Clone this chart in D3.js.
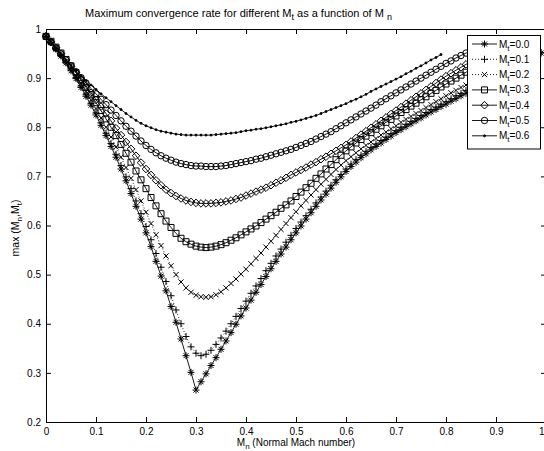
<!DOCTYPE html>
<html>
<head>
<meta charset="utf-8">
<script src="https://cdn.jsdelivr.net/npm/d3@7"></script>
<style>
  body { margin: 0; background: #fff; }
  text { font-family: "Liberation Sans", Arial, Helvetica, sans-serif; }
</style>
</head>
<body>
<svg id="chart" width="544" height="451"></svg>
<script>
// Mach number step is 0.01; each series stops at the sonic limit
const mtLabels = ["0.0", "0.1", "0.2", "0.3", "0.4", "0.5", "0.6"];

const rateMt00 = [
  .985,.973,.959,.945,.931,.915,.899,.881,.863,.845,.825,
  .804,.783,.761,.739,.715,.691,.665,.639,.613,.585,
  .557,.527,.497,.467,.435,.403,.369,.335,.301,.265,
  .282,.298,.315,.331,.348,.365,.382,.399,.416,.432,
  .448,.464,.480,.496,.512,.527,.542,.556,.571,.585,
  .599,.613,.626,.639,.652,.664,.676,.688,.699,.710,
  .720,.729,.738,.746,.754,.761,.768,.775,.782,.789,
  .795,.801,.807,.813,.819,.825,.831,.836,.842,.847,
  .853,.858,.864,.869,.875,.880,.886,.891,.897,.902,
  .908,.913,.919,.924,.930,.935,.941,.946,.951
];
const rateMt01 = [
  .985,.973,.960,.946,.932,.917,.901,.884,.866,.848,.829,
  .809,.788,.767,.745,.722,.699,.675,.650,.624,.598,
  .571,.543,.515,.486,.457,.428,.400,.374,.353,.340,
  .335,.338,.346,.358,.371,.385,.400,.415,.431,.446,
  .462,.477,.492,.508,.523,.538,.552,.566,.580,.594,
  .607,.620,.633,.646,.658,.670,.682,.693,.704,.715,
  .725,.734,.743,.751,.759,.766,.773,.780,.787,.793,
  .800,.806,.812,.818,.824,.830,.836,.841,.847,.852,
  .858,.864,.869,.875,.880,.886,.891,.897,.902,.907,
  .912,.917,.922,.927,.932,.937,.942,.947,.952
];
const rateMt02 = [
  .985,.974,.961,.948,.934,.920,.905,.889,.873,.856,.838,
  .819,.800,.780,.760,.739,.718,.696,.673,.650,.627,
  .604,.581,.559,.538,.518,.500,.485,.473,.464,.458,
  .455,.454,.455,.459,.465,.473,.482,.491,.501,.511,
  .522,.533,.544,.556,.568,.580,.592,.604,.616,.628,
  .640,.651,.662,.673,.684,.694,.704,.714,.723,.732,
  .740,.748,.756,.763,.770,.777,.784,.790,.797,.803,
  .810,.816,.822,.828,.834,.840,.846,.852,.858,.864,
  .870,.875,.881,.886,.891,.896,.901,.906,.911,.916,
  .920,.925,.929,.933,.937,.941,.945
];
const rateMt03 = [
  .985,.975,.963,.951,.938,.925,.911,.896,.881,.866,.850,
  .834,.817,.800,.783,.765,.747,.729,.711,.693,.675,
  .657,.640,.624,.609,.596,.584,.574,.567,.562,.558,
  .556,.555,.556,.558,.561,.565,.570,.575,.581,.587,
  .593,.599,.606,.613,.620,.627,.635,.642,.650,.659,
  .668,.677,.686,.696,.705,.715,.724,.734,.743,.752,
  .760,.768,.775,.782,.789,.796,.803,.810,.816,.823,
  .830,.836,.843,.849,.856,.862,.869,.875,.882,.888,
  .894,.900,.906,.912,.918,.923,.928,.933,.938,.942,
  .946,.949,.952,.955,.958
];
const rateMt04 = [
  .985,.974,.962,.950,.937,.924,.911,.898,.884,.870,.856,
  .842,.828,.813,.798,.784,.770,.756,.742,.728,.715,
  .703,.692,.682,.673,.666,.660,.655,.651,.648,.646,
  .645,.645,.645,.646,.647,.649,.651,.654,.657,.661,
  .665,.669,.673,.677,.682,.687,.692,.697,.703,.708,
  .713,.718,.724,.729,.735,.740,.746,.752,.758,.764,
  .771,.778,.785,.792,.799,.806,.813,.820,.827,.834,
  .841,.848,.855,.862,.869,.876,.883,.890,.897,.904,
  .910,.916,.922,.928,.933,.938,.943,.947,.951,.955,
  .958
];
const rateMt05 = [
  .985,.973,.961,.949,.937,.925,.913,.901,.890,.879,.868,
  .857,.846,.835,.824,.813,.802,.792,.782,.772,.763,
  .755,.748,.742,.737,.733,.729,.726,.724,.722,.721,
  .721,.720,.720,.720,.721,.722,.724,.726,.728,.730,
  .732,.735,.737,.740,.743,.746,.749,.752,.755,.759,
  .763,.767,.771,.776,.781,.786,.791,.797,.803,.809,
  .815,.821,.827,.833,.839,.845,.852,.858,.864,.870,
  .876,.882,.888,.894,.900,.906,.912,.918,.924,.930,
  .935,.941,.946,.951,.955,.959
];
const rateMt06 = [
  .985,.972,.960,.948,.937,.926,.915,.905,.895,.886,.877,
  .868,.860,.852,.844,.836,.828,.821,.814,.808,.803,
  .799,.795,.792,.790,.788,.786,.785,.784,.784,.784,
  .784,.784,.784,.785,.786,.787,.788,.789,.791,.793,
  .794,.796,.797,.799,.801,.803,.805,.807,.810,.812,
  .815,.818,.821,.824,.828,.832,.836,.840,.844,.848,
  .853,.857,.862,.867,.873,.878,.883,.888,.893,.898,
  .903,.909,.914,.920,.925,.931,.937,.942,.948
];

const xTicks = [0, 0.1, 0.2, 0.3, 0.4, 0.5, 0.6, 0.7, 0.8, 0.9, 1];
const xTickLabels = ["0", "0.1", "0.2", "0.3", "0.4", "0.5", "0.6", "0.7", "0.8", "0.9", "1"];
const yTicks = [0.2, 0.3, 0.4, 0.5, 0.6, 0.7, 0.8, 0.9, 1];
const yTickLabels = ["0.2", "0.3", "0.4", "0.5", "0.6", "0.7", "0.8", "0.9", "1"];

const seriesValues = [rateMt00, rateMt01, rateMt02, rateMt03, rateMt04, rateMt05, rateMt06];
const markerKinds = ["star", "plus", "cross", "square", "diamond", "circle", "dot"];
const lineDash = [null, "1,2", "1,2", null, null, null, null];

const plotLeft = 46, plotRight = 546, plotTop = 29, plotBottom = 422;

const svg = d3.select("#chart");
svg.append("rect").attr("width", 544).attr("height", 451).attr("fill", "#fff");

const x = d3.scaleLinear().domain([0, 1]).range([plotLeft, plotRight]);
const y = d3.scaleLinear().domain([0.2, 1]).range([plotBottom, plotTop]);

function markerPath(kind) {
    switch (kind) {
        case "plus": return "M-3.5,0H3.5M0,-3.5V3.5";
        case "cross": return "M-2.6,-2.6L2.6,2.6M-2.6,2.6L2.6,-2.6";
        case "star": return "M-3.5,0H3.5M0,-3.5V3.5M-2.5,-2.5L2.5,2.5M-2.5,2.5L2.5,-2.5";
        case "square": return "M-3,-3H3V3H-3Z";
        case "diamond": return "M0,-3.8L3.8,0L0,3.8L-3.8,0Z";
        case "circle": return "M3.2,0A3.2,3.2 0 1,1 -3.2,0A3.2,3.2 0 1,1 3.2,0Z";
        default: return "M1,0A1,1 0 1,1 -1,0A1,1 0 1,1 1,0Z";
    }
}

// axes, ticks pointing inward
const fmtX = (d, i) => xTickLabels[i];
const fmtY = (d, i) => yTickLabels[i];

const gx = svg.append("g").attr("transform", `translate(0,${plotBottom})`)
    .call(d3.axisBottom(x).tickValues(xTicks).tickFormat(fmtX).tickSizeInner(-5).tickSizeOuter(0).tickPadding(6));
svg.append("g").attr("transform", `translate(0,${plotTop})`)
    .call(d3.axisTop(x).tickValues(xTicks).tickFormat("").tickSizeInner(-5).tickSizeOuter(0));
svg.append("g").attr("transform", `translate(${plotLeft},0)`)
    .call(d3.axisLeft(y).tickValues(yTicks).tickFormat(fmtY).tickSizeInner(-5).tickSizeOuter(0).tickPadding(5));
svg.append("g").attr("transform", `translate(${plotRight},0)`)
    .call(d3.axisRight(y).tickValues(yTicks).tickFormat("").tickSizeInner(-5).tickSizeOuter(0));

svg.selectAll(".domain").attr("stroke", "#000").attr("stroke-width", 1);
svg.selectAll(".tick line").attr("stroke", "#000");
svg.selectAll(".tick text").attr("font-size", 10).attr("fill", "#000")
    .attr("font-family", '"Liberation Sans", Arial, sans-serif');

// the last x label sits at the window edge, keep it inside
gx.selectAll(".tick text").filter((d, i) => i === xTicks.length - 1)
    .attr("text-anchor", "end").attr("x", 544 - plotRight);

// curves
const line = d3.line().x((d, i) => x(i / 100)).y(d => y(d));

const plot = svg.append("g");
seriesValues.forEach((vals, k) => {
    plot.append("path")
        .attr("d", line(vals))
        .attr("fill", "none")
        .attr("stroke", "#000")
        .attr("stroke-width", 0.9)
        .attr("stroke-dasharray", lineDash[k]);

    plot.append("g").selectAll("path")
        .data(vals)
        .enter().append("path")
        .attr("transform", (d, i) => `translate(${x(i / 100)},${y(d)})`)
        .attr("d", markerPath(markerKinds[k]))
        .attr("fill", markerKinds[k] === "dot" ? "#000" : "none")
        .attr("stroke", "#000")
        .attr("stroke-width", 1);
});

// legend
const legend = svg.append("g");
legend.append("rect")
    .attr("x", 467.5).attr("y", 35.5).attr("width", 73).attr("height", 113.5)
    .attr("fill", "#fff").attr("stroke", "#000").attr("stroke-width", 1);

mtLabels.forEach((lab, k) => {
    const ly = 44 + k * 15.3;
    legend.append("line")
        .attr("x1", 472).attr("x2", 497).attr("y1", ly).attr("y2", ly)
        .attr("stroke", "#000").attr("stroke-width", 0.9)
        .attr("stroke-dasharray", lineDash[k]);
    legend.append("path")
        .attr("transform", `translate(484.5,${ly})`)
        .attr("d", markerPath(markerKinds[k]))
        .attr("fill", markerKinds[k] === "dot" ? "#000" : "none")
        .attr("stroke", "#000").attr("stroke-width", 1);
    const t = legend.append("text").attr("x", 499).attr("y", ly + 3.5).attr("font-size", 10);
    t.append("tspan").text("M");
    t.append("tspan").attr("dy", 3).attr("font-size", 8).text("t");
    t.append("tspan").attr("dy", -3).text("=" + lab);
});

// title
const title = svg.append("text").attr("x", 85).attr("y", 17).attr("font-size", 11);
title.append("tspan").text("Maximum convergence rate for different M");
title.append("tspan").attr("dy", 3).attr("font-size", 9).text("t");
title.append("tspan").attr("dy", -3).text("  as a function of M ");
title.append("tspan").attr("dy", 3).attr("font-size", 9).text("n");

// x label
const xl = svg.append("text").attr("x", 296).attr("y", 446).attr("font-size", 10).attr("text-anchor", "middle");
xl.append("tspan").text("M");
xl.append("tspan").attr("dy", 3).attr("font-size", 8).text("n");
xl.append("tspan").attr("dy", -3).text(" (Normal Mach number)");

// y label
const yl = svg.append("text").attr("transform", "translate(19,228) rotate(-90)")
    .attr("font-size", 10.5).attr("text-anchor", "middle");
yl.append("tspan").text("max (M");
yl.append("tspan").attr("dy", 3).attr("font-size", 8).text("n");
yl.append("tspan").attr("dy", -3).text(",M");
yl.append("tspan").attr("dy", 3).attr("font-size", 8).text("t");
yl.append("tspan").attr("dy", -3).text(")");
</script>
</body>
</html>
